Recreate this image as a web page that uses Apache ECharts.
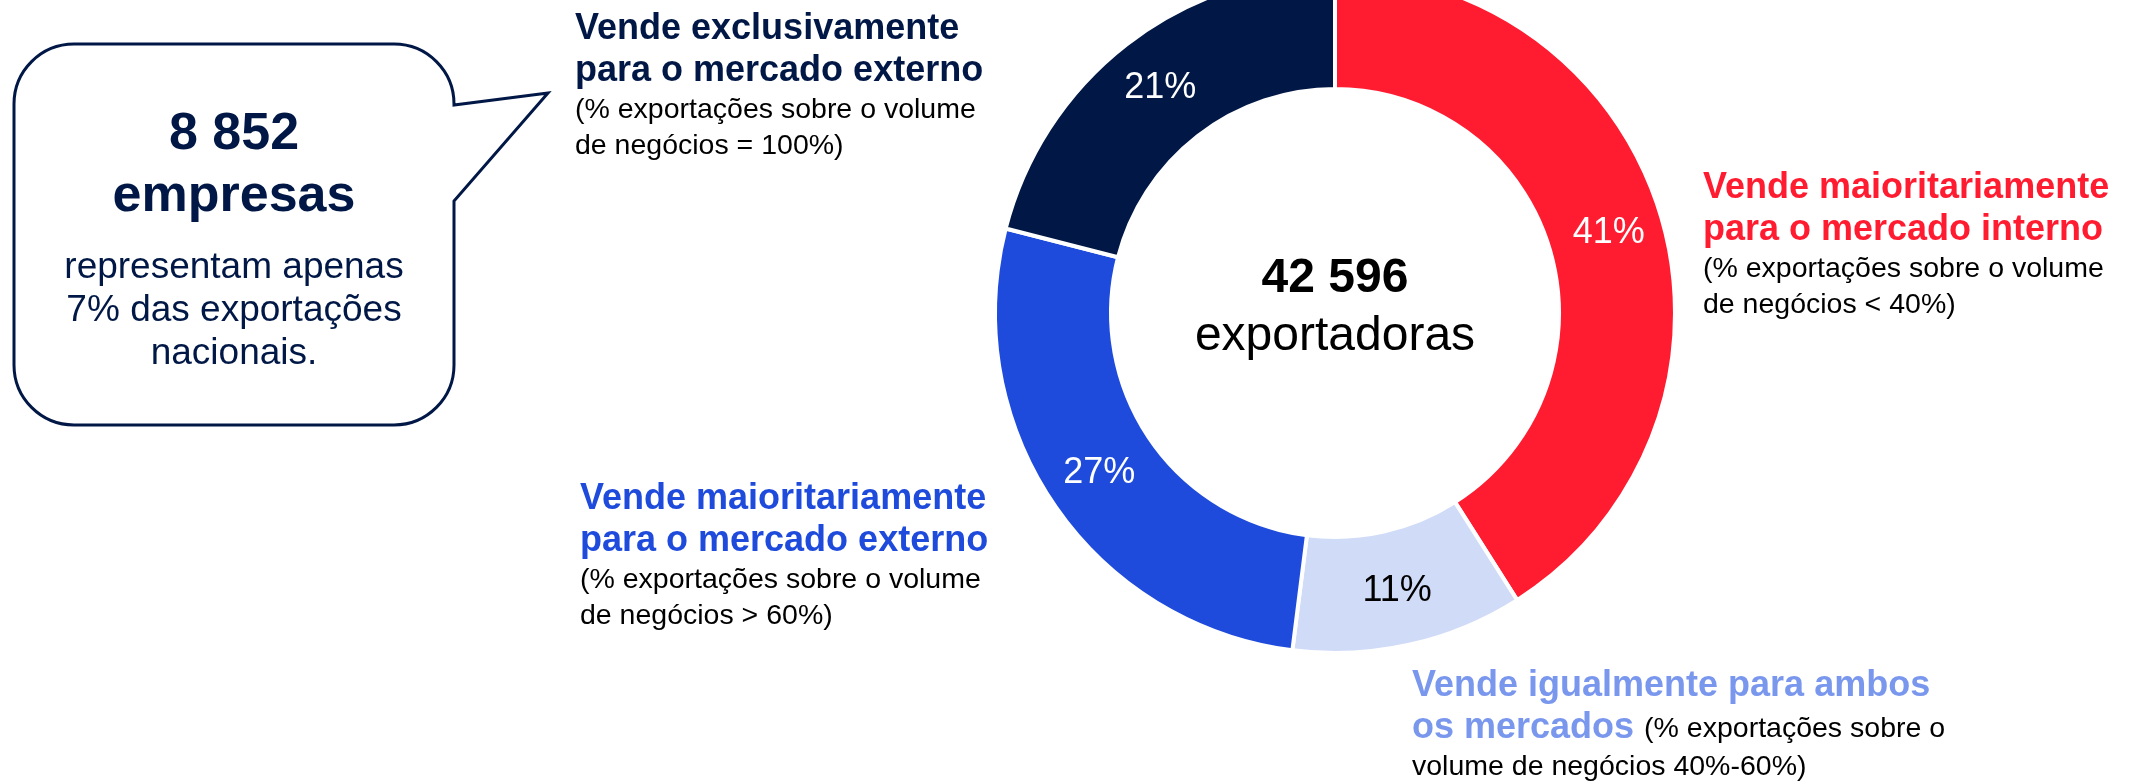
<!DOCTYPE html>
<html>
<head>
<meta charset="utf-8">
<title>Exportadoras por orientação de mercado</title>
<script src="https://cdn.jsdelivr.net/npm/echarts@6.0.0/dist/echarts.min.js"></script>
<style>
  html, body { margin: 0; padding: 0; background: #ffffff; }
  #chart { width: 2144px; height: 783px; }
</style>
</head>
<body>
<div id="chart"></div>
<script>
// data
var categories = [
  'Vende maioritariamente para o mercado interno',
  'Vende igualmente para ambos os mercados',
  'Vende maioritariamente para o mercado externo',
  'Vende exclusivamente para o mercado externo'
];
var shares = [41, 11, 27, 21];
var titleLines = [
  ['Vende maioritariamente', 'para o mercado interno'],
  ['Vende igualmente para ambos', 'os mercados'],
  ['Vende maioritariamente', 'para o mercado externo'],
  ['Vende exclusivamente', 'para o mercado externo']
];
var noteLines = [
  ['(% exportações sobre o volume', 'de negócios < 40%)'],
  ['(% exportações sobre o', 'volume de negócios 40%-60%)'],
  ['(% exportações sobre o volume', 'de negócios > 60%)'],
  ['(% exportações sobre o volume', 'de negócios = 100%)']
];
var totalValue = '42 596';
var totalLabel = 'exportadoras';
var calloutTitle = ['8 852', 'empresas'];
var calloutText = ['representam apenas', '7% das exportações', 'nacionais.'];

// styles
var FONT = '"Liberation Sans", Arial, sans-serif';
var NAVY = '#011846';
var sliceColors = ['#ff1c31', '#d0dbf7', '#1e4bdc', '#011846'];
var titleColors = ['#ff1c31', '#7a97ee', '#1e4bdc', '#011846'];
var pctColors = ['#ffffff', '#000000', '#ffffff', '#ffffff'];

// label blocks: left x, baseline of first line, note continues on last title line
var blockLayout = [
  { x: 1703, y: 197, inline: false },
  { x: 1412, y: 695, inline: true },
  { x: 580, y: 508, inline: false },
  { x: 575, y: 38, inline: false }
];

// speech bubble outline
var Bubble = echarts.graphic.extendPath(
  'M 74 44 L 394 44 A 60 60 0 0 1 454 104 L 454 105 L 548 93 L 454 201 ' +
  'L 454 365 A 60 60 0 0 1 394 425 L 74 425 A 60 60 0 0 1 14 365 L 14 104 A 60 60 0 0 1 74 44 Z'
);
echarts.graphic.registerShape('bubble', Bubble);

var measureCtx = document.createElement('canvas').getContext('2d');
function textWidth(str, size, weight) {
  measureCtx.font = weight + ' ' + size + 'px ' + FONT;
  return measureCtx.measureText(str).width;
}

function textAt(x, baseline, str, size, weight, color, align) {
  return {
    type: 'text',
    x: x,
    y: baseline - 0.26 * size,
    silent: true,
    style: {
      text: str,
      fontFamily: FONT,
      fontSize: size,
      fontWeight: weight,
      fill: color,
      align: align || 'left',
      verticalAlign: 'middle'
    }
  };
}

var graphics = [];

// category labels
blockLayout.forEach(function (b, i) {
  var y = b.y;
  titleLines[i].forEach(function (line, k) {
    graphics.push(textAt(b.x, y, line, 36, 'bold', titleColors[i]));
    if (k < titleLines[i].length - 1) y += 42;
  });
  var notes = noteLines[i].slice();
  if (b.inline) {
    var last = titleLines[i][titleLines[i].length - 1] + ' ';
    graphics.push(textAt(b.x + textWidth(last, 36, 'bold'), y, notes.shift(), 28.5, 'normal', '#000000'));
    y += 38;
  } else {
    y += 38;
  }
  notes.forEach(function (line) {
    graphics.push(textAt(b.x, y, line, 28.5, 'normal', '#000000'));
    y += 36;
  });
});

// centre text
graphics.push(textAt(1335, 291, totalValue, 48, 'bold', '#000000', 'center'));
graphics.push(textAt(1335, 349, totalLabel, 48, 'normal', '#000000', 'center'));

// callout bubble
graphics.push({
  type: 'bubble',
  silent: true,
  style: { fill: '#ffffff', stroke: NAVY, lineWidth: 3 }
});
graphics.push(textAt(234, 148, calloutTitle[0], 52, 'bold', NAVY, 'center'));
graphics.push(textAt(234, 210, calloutTitle[1], 52, 'bold', NAVY, 'center'));
calloutText.forEach(function (line, k) {
  graphics.push(textAt(234, 277 + k * 43, line, 37, 'normal', NAVY, 'center'));
});

var pieData = categories.map(function (name, i) {
  return {
    name: name,
    value: shares[i],
    itemStyle: { color: sliceColors[i] },
    label: { color: pctColors[i] }
  };
});

var chart = echarts.init(document.getElementById('chart'), null, { renderer: 'canvas' });
chart.setOption({
  backgroundColor: '#ffffff',
  animation: false,
  series: [{
    type: 'pie',
    center: [1335, 313],
    radius: [224, 340],
    startAngle: 90,
    clockwise: true,
    avoidLabelOverlap: false,
    silent: true,
    itemStyle: {
      borderColor: '#ffffff',
      borderWidth: 4
    },
    label: {
      show: true,
      position: 'inside',
      formatter: '{c}%',
      fontFamily: FONT,
      fontSize: 36,
      fontWeight: 'normal'
    },
    labelLine: { show: false },
    data: pieData
  }],
  graphic: graphics
});
</script>
</body>
</html>
